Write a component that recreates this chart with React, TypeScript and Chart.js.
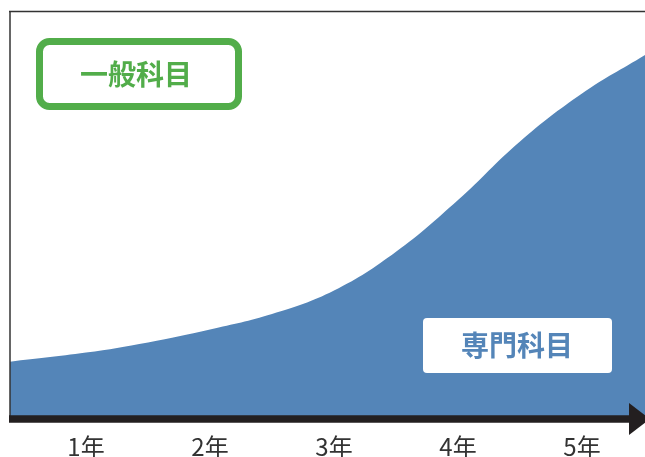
import React, { useEffect, useRef } from "react";
import { Chart, registerables } from "chart.js";

Chart.register(...registerables);

const years = [0.387, 1, 1.5, 2, 2.5, 3, 3.5, 4, 4.5, 5, 5.508];
const share = [14.06, 16.29, 18.8, 21.96, 25.74, 31.51, 41.03, 53.74, 68.12, 79.88, 89.33];
const tickValues = [1, 2, 3, 4, 5];
const tickLabels = ["1年", "2年", "3年", "4年", "5年"];
const generalLabel = "一般科目";
const specialLabel = "専門科目";

const BLUE = "#5485b8";
const GREEN = "#52ad4a";
const CJK = '"Noto Sans CJK JP", "Noto Sans", sans-serif';

const decorPlugin = {
  id: "decor",
  afterDatasetsDraw(chart: any) {
    const { ctx, chartArea, width } = chart;
    const { left, top, bottom } = chartArea;
    ctx.save();
    ctx.strokeStyle = "#333";
    ctx.lineWidth = 1.5;
    ctx.beginPath();
    ctx.moveTo(left - 1, top);
    ctx.lineTo(width, top);
    ctx.stroke();
    ctx.beginPath();
    ctx.moveTo(left, top);
    ctx.lineTo(left, bottom);
    ctx.stroke();
    ctx.strokeStyle = "#231f20";
    ctx.fillStyle = "#231f20";
    ctx.lineWidth = 7.5;
    ctx.beginPath();
    ctx.moveTo(left - 1, bottom);
    ctx.lineTo(632, bottom);
    ctx.stroke();
    ctx.beginPath();
    ctx.moveTo(629, bottom - 16);
    ctx.lineTo(650, bottom);
    ctx.lineTo(629, bottom + 16);
    ctx.closePath();
    ctx.fill();

    ctx.lineWidth = 7;
    ctx.strokeStyle = GREEN;
    ctx.beginPath();
    (ctx as any).roundRect(39.5, 41.5, 199, 65, 10);
    ctx.stroke();
    ctx.fillStyle = GREEN;
    ctx.font = `bold 28px ${CJK}`;
    ctx.textAlign = "center";
    ctx.textBaseline = "middle";
    ctx.fillText(generalLabel, 136, 74);

    ctx.fillStyle = "#ffffff";
    ctx.beginPath();
    (ctx as any).roundRect(423, 318, 189, 55, 4);
    ctx.fill();
    ctx.fillStyle = BLUE;
    ctx.fillText(specialLabel, 517, 345);
    ctx.restore();
  },
};

export default function App() {
  const ref = useRef<HTMLCanvasElement>(null);
  useEffect(() => {
    if (!ref.current) return;
    const chart = new Chart(ref.current, {
      type: "line",
      data: {
        datasets: [
          {
            data: years.map((x, i) => ({ x, y: share[i] })),
            backgroundColor: BLUE,
            borderColor: BLUE,
            borderWidth: 0,
            pointRadius: 0,
            fill: "start",
            tension: 0.4,
          },
        ],
      },
      options: {
        animation: false,
        responsive: false,
        maintainAspectRatio: false,
        layout: { padding: { left: 10, top: 11.5, right: 0, bottom: 0 } },
        plugins: { legend: { display: false }, tooltip: { enabled: false } },
        scales: {
          x: {
            type: "linear",
            min: years[0],
            max: years[years.length - 1],
            grid: { display: false, drawTicks: false },
            border: { display: false },
            afterBuildTicks: (scale: any) => {
              scale.ticks = tickValues.map((v) => ({ value: v }));
            },
            ticks: {
              autoSkip: false,
              maxRotation: 0,
              padding: 16,
              color: "#333",
              font: { family: CJK, size: 24, lineHeight: 1 },
              callback: (v: any) => tickLabels[tickValues.indexOf(Number(v))] ?? "",
            },
          },
          y: { display: false, min: 0, max: 100 },
        },
      },
      plugins: [decorPlugin],
    });
    return () => chart.destroy();
  }, []);
  return (
    <div style={{ position: "fixed", left: 0, top: 0, width: 645, height: 457, overflow: "hidden", background: "#fff" }}>
      <canvas ref={ref} width={645} height={475} style={{ width: 645, height: 475 }} />
    </div>
  );
}
